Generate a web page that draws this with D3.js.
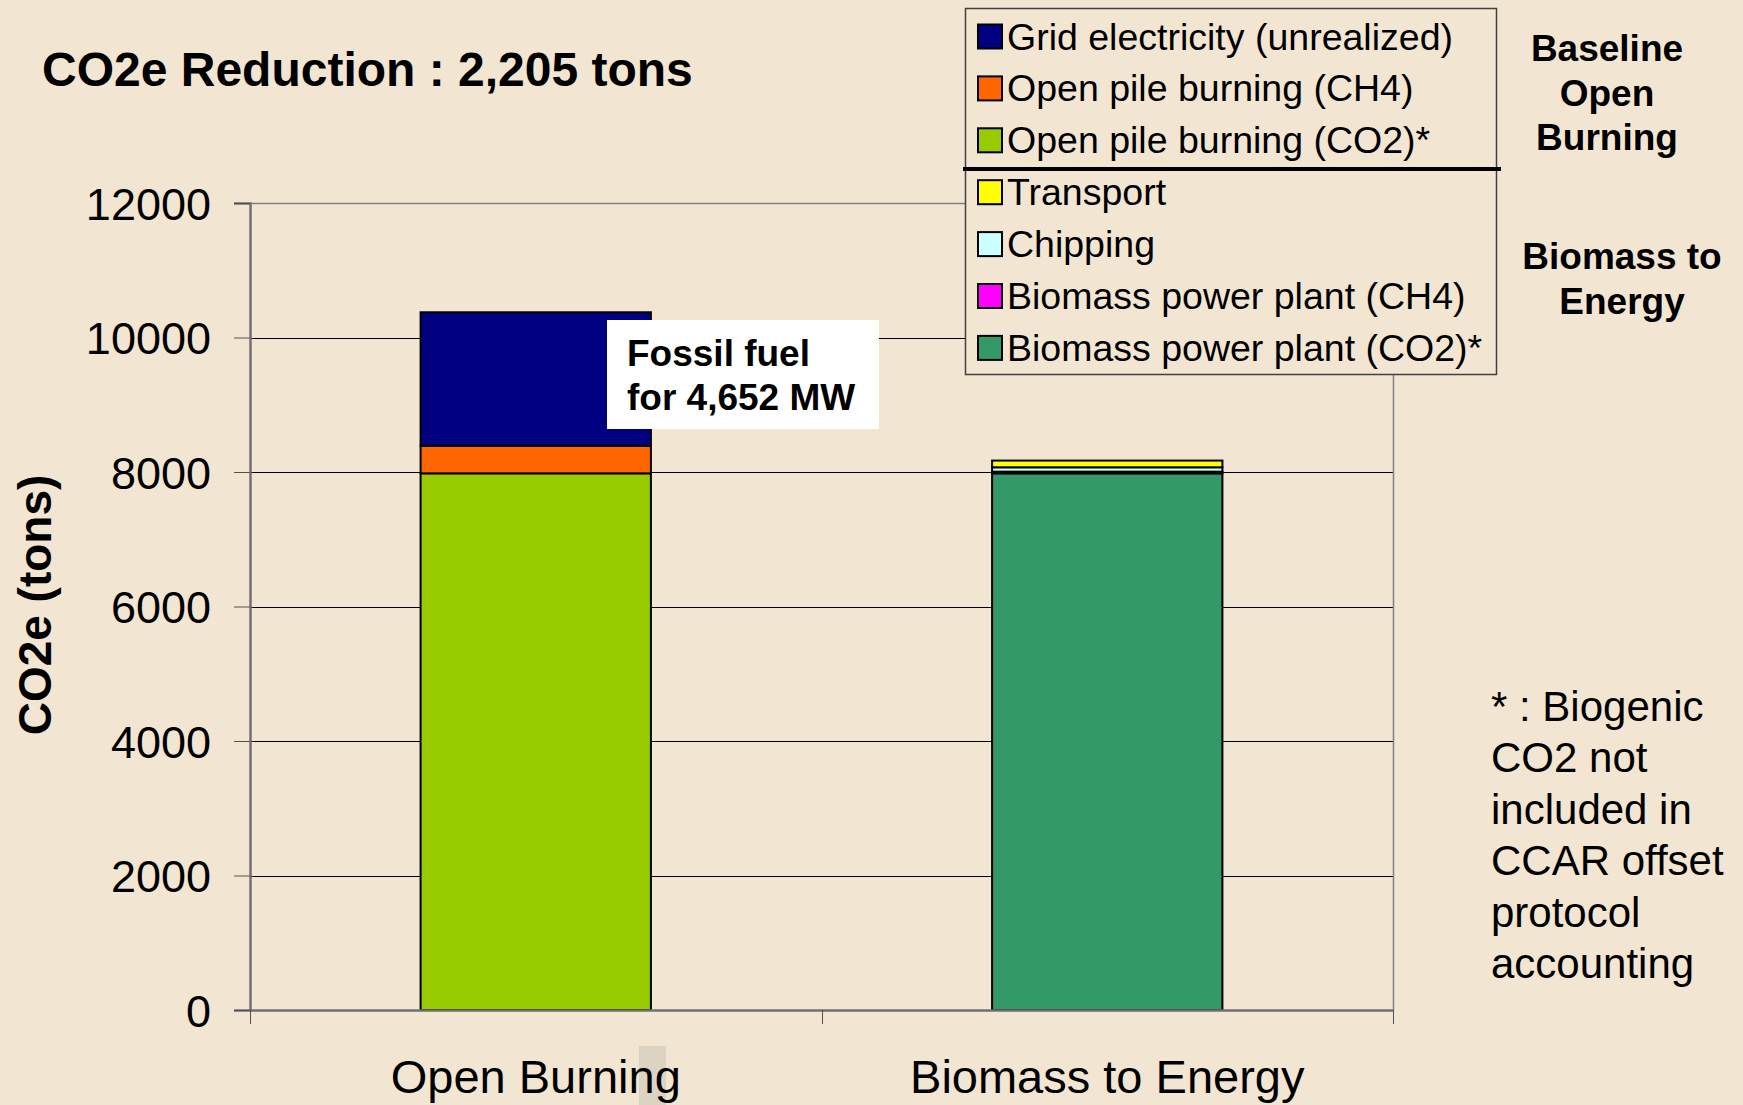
<!DOCTYPE html>
<html lang="en">
<head>
<meta charset="utf-8">
<title>CO2e Reduction</title>
<style type="text/css">
    body {
        margin: 0;
        background-color: #f2e6d2;
    }
    svg {
        display: block;
        background-color: #f2e6d2;
        font-family: "Liberation Sans", Arial, sans-serif;
    }
    .axis text {
        fill: #000;
        font-size: 45px;
    }
    .grid line {
        stroke: #000;
        stroke-width: 1px;
    }
    .legendText {
        font-size: 37.5px;
    }
    .sideNote {
        font-size: 37px;
        font-weight: bold;
    }
    .footNote {
        font-size: 42px;
    }
</style>
<script src="https://d3js.org/d3.v7.min.js"></script>
</head>
<body>
<div id="chart"></div>
<script>

    // data
    var categories = ['Open Burning', 'Biomass to Energy'];
    var seriesNames = ['Open pile burning (CO2)*', 'Biomass power plant (CO2)*', 'Open pile burning (CH4)',
        'Biomass power plant (CH4)', 'Chipping', 'Transport', 'Grid electricity (unrealized)'];
    var openBurning = [7980, 0, 410, 0, 0, 0, 1985];
    var biomassEnergy = [0, 7980, 0, 25, 65, 100, 0];
    var seriesColors = ['#99cc00', '#339966', '#ff6600', '#ff00ff', '#ccffff', '#ffff00', '#000080'];
    var legendOrder = ['Grid electricity (unrealized)', 'Open pile burning (CH4)', 'Open pile burning (CO2)*',
        'Transport', 'Chipping', 'Biomass power plant (CH4)', 'Biomass power plant (CO2)*'];
    var yTicks = [0, 2000, 4000, 6000, 8000, 10000, 12000];
    var titleText = 'CO2e Reduction : 2,205 tons';
    var noteLines = ['* : Biogenic', 'CO2 not', 'included in', 'CCAR offset', 'protocol', 'accounting'];

    var width = 1743, height = 1105;
    var plot = { left: 250, right: 1393, top: 203, bottom: 1010 };

    var svg = d3.select('#chart')
        .append('svg')
        .attr('width', width)
        .attr('height', height);

    // build rows for the stack
    var rows = categories.map(function(c, i) {
        var vals = i == 0 ? openBurning : biomassEnergy;
        var row = { category: c };
        seriesNames.forEach(function(s, j) { row[s] = vals[j]; });
        return row;
    });

    var stacked = d3.stack().keys(seriesNames)(rows);

    var xScale = d3.scaleBand()
        .domain(categories)
        .range([plot.left, plot.right]);

    var yScale = d3.scaleLinear()
        .domain([0, 12000])
        .range([plot.bottom, plot.top]);

    var cScale = d3.scaleOrdinal()
        .domain(seriesNames)
        .range(seriesColors);

    var barWidth = xScale.bandwidth() * 0.403;

    // small grey patch behind the "g" of Open Burning
    svg.append('rect')
        .attr('x', 639)
        .attr('y', 1046)
        .attr('width', 27)
        .attr('height', 60)
        .attr('fill', '#ddd3c3');

    // gridlines
    svg.append('g')
        .attr('class', 'grid')
        .selectAll('line')
        .data(yTicks.filter(function(t) { return t > 0 && t < 12000; }))
        .enter()
        .append('line')
        .attr('x1', plot.left)
        .attr('x2', plot.right)
        .attr('y1', function(d) { return Math.round(yScale(d)) + 0.5; })
        .attr('y2', function(d) { return Math.round(yScale(d)) + 0.5; });

    // top and right border of the plot
    svg.append('path')
        .attr('d', 'M' + plot.left + ',' + (plot.top + 0.5) + 'H' + (plot.right + 0.5) + 'V' + plot.bottom)
        .attr('fill', 'none')
        .attr('stroke', '#808080')
        .attr('stroke-width', 1.5);

    // bars
    svg.append('g')
        .selectAll('g')
        .data(stacked)
        .enter()
        .append('g')
        .attr('fill', function(d) { return cScale(d.key); })
        .selectAll('rect')
        .data(function(d) { return d.filter(function(p) { return p[1] - p[0] > 0; }); })
        .enter()
        .append('rect')
        .attr('x', function(d) { return xScale(d.data.category) + (xScale.bandwidth() - barWidth) / 2; })
        .attr('y', function(d) { return yScale(d[1]); })
        .attr('width', barWidth)
        .attr('height', function(d) { return yScale(d[0]) - yScale(d[1]); })
        .attr('stroke', '#000')
        .attr('stroke-width', 2);

    // Y axis
    var yAxis = d3.axisLeft(yScale).tickValues(yTicks).tickFormat(d3.format('d')).tickSize(16).tickPadding(23);
    var yAxisG = svg.append('g')
        .attr('class', 'axis')
        .attr('transform', 'translate(' + plot.left + ',0)')
        .call(yAxis);
    yAxisG.select('.domain').attr('stroke', '#707070').attr('stroke-width', 2.5);
    yAxisG.selectAll('.tick line').attr('stroke', '#505050').attr('stroke-width', 1);
    yAxisG.selectAll('.tick text').attr('dy', '0.36em');

    // X axis: labels at band centres, ticks at band edges
    var xAxis = d3.axisBottom(xScale).tickSize(0).tickPadding(50);
    var xAxisG = svg.append('g')
        .attr('class', 'axis')
        .attr('transform', 'translate(0,' + plot.bottom + ')')
        .call(xAxis);
    xAxisG.select('.domain').attr('stroke', '#707070').attr('stroke-width', 2.5);
    xAxisG.selectAll('.tick text').style('font-size', '47px');

    var edges = [xScale(categories[0]), xScale(categories[1]), xScale(categories[1]) + xScale.bandwidth()];
    svg.append('g')
        .selectAll('line')
        .data(edges)
        .enter()
        .append('line')
        .attr('x1', function(d) { return Math.round(d) + 0.5; })
        .attr('x2', function(d) { return Math.round(d) + 0.5; })
        .attr('y1', plot.bottom)
        .attr('y2', plot.bottom + 14)
        .attr('stroke', '#505050')
        .attr('stroke-width', 1);

    // Y axis title
    svg.append('text')
        .attr('transform', 'translate(51,605) rotate(-90)')
        .attr('text-anchor', 'middle')
        .style('font-size', '46px')
        .style('font-weight', 'bold')
        .text('CO2e (tons)');

    // Title
    svg.append('text')
        .attr('x', 42)
        .attr('y', 86)
        .style('font-size', '48px')
        .style('font-weight', 'bold')
        .text(titleText);

    // annotation box
    svg.append('rect')
        .attr('x', 607)
        .attr('y', 320)
        .attr('width', 272)
        .attr('height', 109)
        .attr('fill', '#fff');
    svg.append('text')
        .attr('x', 627)
        .attr('y', 366)
        .style('font-size', '37px')
        .style('font-weight', 'bold')
        .text('Fossil fuel');
    svg.append('text')
        .attr('x', 627)
        .attr('y', 410)
        .style('font-size', '37px')
        .style('font-weight', 'bold')
        .text('for 4,652 MW');

    // legend
    var legend = svg.append('g');
    legend.append('rect')
        .attr('x', 965.5)
        .attr('y', 8.5)
        .attr('width', 531)
        .attr('height', 366)
        .attr('fill', '#f2e6d2')
        .attr('stroke', '#404040')
        .attr('stroke-width', 1.5);

    var items = legend.selectAll('.item')
        .data(legendOrder)
        .enter()
        .append('g')
        .attr('class', 'item')
        .attr('transform', function(d, i) { return 'translate(0,' + (36 + i * 51.9) + ')'; });

    items.append('rect')
        .attr('x', 978)
        .attr('y', -11.5)
        .attr('width', 24)
        .attr('height', 24)
        .attr('fill', function(d) { return cScale(d); })
        .attr('stroke', '#000')
        .attr('stroke-width', 2);

    items.append('text')
        .attr('class', 'legendText')
        .attr('x', 1007)
        .attr('dy', '0.36em')
        .text(function(d) { return d; });

    legend.append('line')
        .attr('x1', 963)
        .attr('x2', 1501)
        .attr('y1', 169)
        .attr('y2', 169)
        .attr('stroke', '#000')
        .attr('stroke-width', 4);

    // side labels
    var sideA = ['Baseline', 'Open', 'Burning'];
    svg.append('g')
        .selectAll('text')
        .data(sideA)
        .enter()
        .append('text')
        .attr('class', 'sideNote')
        .attr('x', 1607)
        .attr('y', function(d, i) { return 61 + i * 44.5; })
        .attr('text-anchor', 'middle')
        .text(function(d) { return d; });

    var sideB = ['Biomass to', 'Energy'];
    svg.append('g')
        .selectAll('text')
        .data(sideB)
        .enter()
        .append('text')
        .attr('class', 'sideNote')
        .attr('x', 1622)
        .attr('y', function(d, i) { return 269 + i * 44.5; })
        .attr('text-anchor', 'middle')
        .text(function(d) { return d; });

    // footnote
    svg.append('g')
        .selectAll('text')
        .data(noteLines)
        .enter()
        .append('text')
        .attr('class', 'footNote')
        .attr('x', 1491)
        .attr('y', function(d, i) { return 721 + i * 51.4; })
        .text(function(d) { return d; });

</script>
</body>
</html>
